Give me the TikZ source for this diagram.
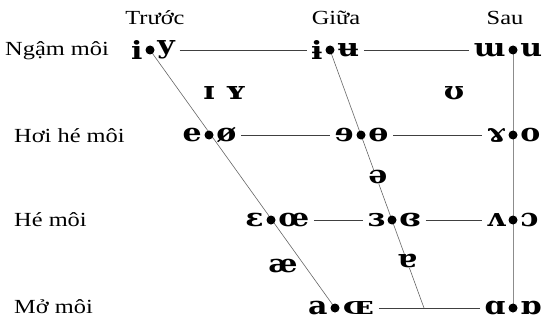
\documentclass[tikz,border=0pt]{standalone}
\usepackage{fontspec}
\setmainfont{Liberation Serif}
\newfontfamily\ipafont{DejaVu Serif}[BoldFont={DejaVu Serif Bold}]
\usetikzlibrary{backgrounds}
\newcommand\ipasym[1]{\scalebox{1.2}[1]{#1}}
\newcommand\labtxt[1]{\scalebox{1.22}[1]{#1}}
\tikzset{
  lbl/.style={font=\fontsize{20}{22}\selectfont, inner sep=0pt},
  ipa/.style={font=\ipafont\bfseries\fontsize{25}{27}\selectfont, inner ysep=1.5pt, inner xsep=2.5pt},
  vdot/.style={circle, fill=black, inner sep=0pt, minimum size=9pt},
  hline/.style={draw=black!75, line width=0.7pt},
  sline/.style={draw=black!60, line width=0.6pt},
  bline/.style={draw=black!45, line width=1pt},
}
\begin{document}
\begin{tikzpicture}[x=1pt,y=-1pt]
\useasboundingbox (0,0) rectangle (549,321);
% column headers
\node[lbl] (hfront) at (155,18) {\labtxt{Trước}};
\node[lbl] (hcent) at (336,18) {\labtxt{Giữa}};
\node[lbl] (hback) at (505,18) {\labtxt{Sau}};
% row labels
\node[lbl, anchor=west] (r1) at (5,51) {\labtxt{Ngậm môi}};
\node[lbl, anchor=west] (r2) at (14,136) {\labtxt{Hơi hé môi}};
\node[lbl, anchor=west] (r3) at (14,220) {\labtxt{Hé môi}};
\node[lbl, anchor=west] (r4) at (14,307) {\labtxt{Mở môi}};
% dots
\node[vdot] (d11) at (150,50) {};
\node[vdot] (d12) at (330,50) {};
\node[vdot] (d13) at (513,50) {};
\node[vdot] (d21) at (209,135) {};
\node[vdot] (d22) at (361,135) {};
\node[vdot] (d23) at (513,135) {};
\node[vdot] (d31) at (271,220) {};
\node[vdot] (d32) at (392,220) {};
\node[vdot] (d33) at (513,220) {};
\node[vdot] (d41) at (335,308) {};
\node[vdot] (d43) at (513,308) {};
\coordinate (c4) at (424,308);
% symbols
\node[ipa, anchor=east] (s11l) at (d11.west) {\ipasym{i}};
\node[ipa, anchor=west] (s11r) at (d11.east) {\ipasym{y}};
\node[ipa, anchor=east] (s12l) at (d12.west) {\ipasym{ɨ}};
\node[ipa, anchor=west] (s12r) at (d12.east) {\ipasym{ʉ}};
\node[ipa, anchor=east] (s13l) at (d13.west) {\ipasym{ɯ}};
\node[ipa, anchor=west] (s13r) at (d13.east) {\ipasym{u}};
\node[ipa, anchor=east] (s21l) at (d21.west) {\ipasym{e}};
\node[ipa, anchor=west] (s21r) at (d21.east) {\ipasym{ø}};
\node[ipa, anchor=east] (s22l) at (d22.west) {\ipasym{ɘ}};
\node[ipa, anchor=west] (s22r) at (d22.east) {\ipasym{ɵ}};
\node[ipa, anchor=east] (s23l) at (d23.west) {\ipasym{ɤ}};
\node[ipa, anchor=west] (s23r) at (d23.east) {\ipasym{o}};
\node[ipa, anchor=east] (s31l) at (d31.west) {\ipasym{ɛ}};
\node[ipa, anchor=west] (s31r) at (d31.east) {\ipasym{œ}};
\node[ipa, anchor=east] (s32l) at (d32.west) {\ipasym{ɜ}};
\node[ipa, anchor=west] (s32r) at (d32.east) {\ipasym{ɞ}};
\node[ipa, anchor=east] (s33l) at (d33.west) {\ipasym{ʌ}};
\node[ipa, anchor=west] (s33r) at (d33.east) {\ipasym{ɔ}};
\node[ipa, anchor=east] (s41l) at (d41.west) {\ipasym{a}};
\node[ipa, anchor=west] (s41r) at (d41.east) {\ipasym{ɶ}};
\node[ipa, anchor=east] (s43l) at (d43.west) {\ipasym{ɑ}};
\node[ipa, anchor=west] (s43r) at (d43.east) {\ipasym{ɒ}};
% extra vowels
\node[ipa] (x1) at (225,93) {\ipasym{ɪ\,\,ʏ}};
\node[ipa] (x2) at (454,93) {\ipasym{ʊ}};
\node[ipa, fill=white, inner sep=0.5pt] (x3) at (378,177) {\ipasym{ə}};
\node[ipa] (x4) at (283,266) {\ipasym{æ}};
\node[ipa, fill=white, inner sep=0.5pt] (x5) at (407,261) {\ipasym{ɐ}};
\begin{pgfonlayer}{background}
\draw[sline] (d11.center) -- (d41.center);
\draw[sline] (d12.center) -- (c4);
\draw[bline] (d13.center) -- (d43.center);
\end{pgfonlayer}
\draw[hline] ([xshift=2pt]s11r.east) -- ([xshift=-2pt]s12l.west);
\draw[hline] ([xshift=2pt]s12r.east) -- ([xshift=-2pt]s13l.west);
\draw[hline] ([xshift=2pt]s21r.east) -- ([xshift=-2pt]s22l.west);
\draw[hline] ([xshift=2pt]s22r.east) -- ([xshift=-2pt]s23l.west);
\draw[hline] ([xshift=2pt]s31r.east) -- ([xshift=-2pt]s32l.west);
\draw[hline] ([xshift=2pt]s32r.east) -- ([xshift=-2pt]s33l.west);
\draw[hline] ([xshift=2pt]s41r.east) -- ([xshift=-2pt]s43l.west);
\end{tikzpicture}
\end{document}
